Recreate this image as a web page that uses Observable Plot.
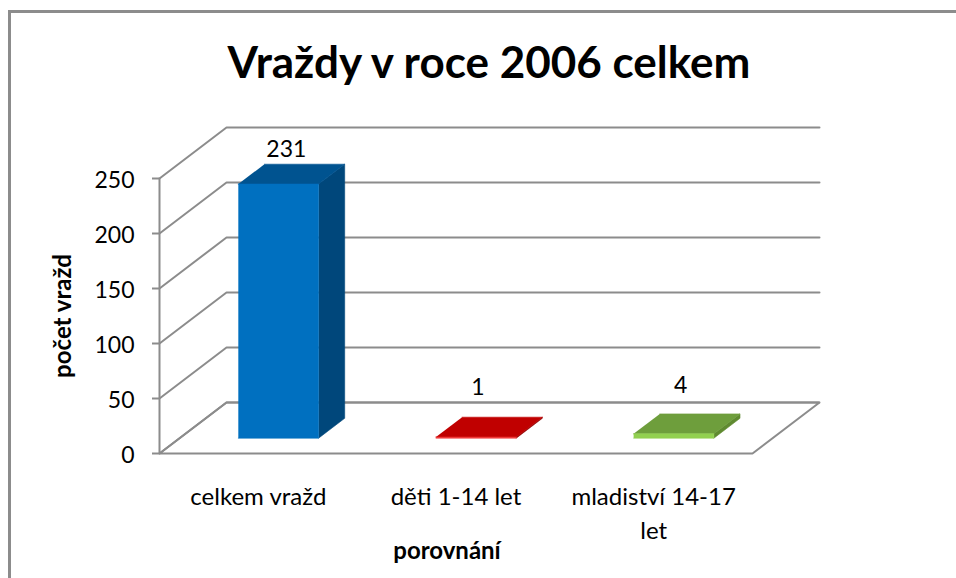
<!DOCTYPE html>
<html lang="cs">
<head>
<meta charset="utf-8">
<script src="https://cdn.jsdelivr.net/npm/d3@7"></script>
<script src="https://cdn.jsdelivr.net/npm/@observablehq/plot@0.6"></script>
<style>
  html, body { margin: 0; padding: 0; background: #fff; }
  #frame { position: relative; width: 956px; height: 578px; overflow: hidden; box-sizing: border-box; font-family: Lato, sans-serif; }
  #edgeTop { position: absolute; left: 8px; top: 10px; right: 0; height: 2.5px; background: #8c8c8c; }
  #edgeLeft { position: absolute; left: 8px; top: 10px; bottom: 0; width: 2.5px; background: #8c8c8c; }
  #title { height: 100px; text-align: center; padding-left: 22px; box-sizing: border-box; font-size: 44px; font-weight: 700; line-height: 122px; color: #000; }
  svg { display: block; }
</style>
</head>
<body>
<div id="frame">
  <div id="edgeTop"></div>
  <div id="edgeLeft"></div>
  <div id="title">Vraždy v roce 2006 celkem</div>
  <div id="chart"></div>
</div>
<script>
const categories = ["celkem vražd", "děti 1-14 let", "mladiství 14-17\nlet"];
const values = [231, 1, 4];
const yTicks = [0, 50, 100, 150, 200, 250];
const frontColors = ["#0070C0", "#F03A3A", "#92D050"];
const topColors = ["#005390", "#C00000", "#6E9E3C"];
const sideColors = ["#00477B", "#900000", "#5F8A30"];
const yLabel = "počet vražd";
const xLabel = "porovnání";

// The oblique 3D look, expressed in data units: going to the back wall moves
// a point this far along the category axis and up the value axis.
const depthX = 0.339, depthY = 46.4;
const nearD = 0.3, farD = 0.69, halfBar = 0.203;
const gridColor = "#8c8c8c";

const pt = (x, v, d, g, c) => ({x: x + d * depthX, y: v + d * depthY, g, c});

const walls = [
  pt(0, 0, 1, "floor"), pt(0, 0, 0, "floor"), pt(3, 0, 0, "floor"), pt(3, 0, 1, "floor"), pt(0, 0, 1, "floor"),
  pt(0, 0, 0, "axis"), pt(0, 250, 0, "axis")
];
for (const v of yTicks) {
  walls.push(pt(0, v, 0, "g" + v), pt(0, v, 1, "g" + v), pt(3, v, 1, "g" + v));
}

const faces = [];
values.forEach((v, i) => {
  const l = i + 0.5 - halfBar, r = i + 0.5 + halfBar;
  const face = (name, c, corners) => corners.forEach(([x, val, d]) => faces.push(pt(x, val, d, name + i, c)));
  face("side", sideColors[i], [[r, 0, nearD], [r, 0, farD], [r, v, farD], [r, v, nearD]]);
  face("top", topColors[i], [[l, v, nearD], [r, v, nearD], [r, v, farD], [l, v, farD]]);
  face("front", frontColors[i], [[l, 0, nearD], [r, 0, nearD], [r, v, nearD], [l, v, nearD]]);
});

const catRows = categories.map((name, i) => ({name, x: i + 0.5}));
const labelOffsets = [{dx: 28, dy: -15}, {dx: 22, dy: -30}, {dx: 27, dy: -28}];
const valueLabels = values.map((v, i) => Plot.text([v], {
  x: () => i + 0.5,
  y: () => v + farD * depthY,
  text: d => String(d),
  dx: labelOffsets[i].dx,
  dy: labelOffsets[i].dy,
  fontSize: 23,
  fill: "#000"
}));

const plot = Plot.plot({
  width: 956,
  height: 478,
  marginLeft: 159,
  marginRight: 137,
  marginTop: 20,
  marginBottom: 125,
  style: {fontFamily: "Lato, sans-serif", background: "transparent", overflow: "visible"},
  x: {type: "linear", domain: [0, 3 + depthX], range: [159, 819], axis: null},
  y: {type: "linear", domain: [0, 250], range: [353, 78], axis: null},
  color: {type: "identity"},
  marks: [
    Plot.line(walls, {x: "x", y: "y", z: "g", stroke: gridColor, strokeWidth: 2, strokeLinejoin: "miter"}),
    Plot.axisY(yTicks, {anchor: "left", tickSize: 7, stroke: gridColor, strokeWidth: 2, tickFormat: () => "", label: null}),
    Plot.axisY(yTicks, {anchor: "left", tickSize: 0, tickPadding: 25, dy: 2, fill: "#000", fontSize: 23, label: null}),
    Plot.line(faces, {x: "x", y: "y", z: "g", fill: "c", stroke: "c", strokeWidth: 0.6}),
    ...valueLabels,
    Plot.text(catRows, {x: "x", y: () => 0, text: "name", lineAnchor: "top", dy: 27, fontSize: 24, lineHeight: 1.42, fill: "#000"}),
    Plot.text([xLabel], {x: () => 1.5, y: () => 0, dx: -9, dy: 98, text: d => d, fontSize: 24, fontWeight: 700, fill: "#000"}),
    Plot.text([yLabel], {x: () => 0, dx: -96, y: () => 125, text: d => d, rotate: -90, fontSize: 24, fontWeight: 700, fill: "#000"})
  ]
});
document.getElementById("chart").appendChild(plot);
</script>
</body>
</html>
